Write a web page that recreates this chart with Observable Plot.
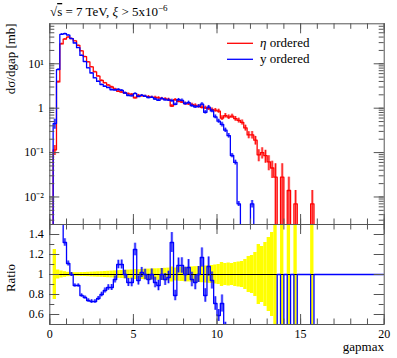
<!DOCTYPE html>
<html><head><meta charset="utf-8">
<script src="https://cdn.jsdelivr.net/npm/d3@7"></script>
<script src="https://cdn.jsdelivr.net/npm/@observablehq/plot@0.6"></script>
<style>
body{margin:0;background:#fff;}
#chart{position:relative;width:397px;height:358px;}
#chart svg{display:block;overflow:visible;}
</style></head><body><div id="chart"></div>
<script>
// ---- data (bins of width 0.2 in gapmax, starting at 0) ----
const binWidth = 0.2;
const etaOrdered = [0,0.115,3.9,28,36,40,37,33,26,19.5,
  14.5,11,8.5,6.6,5.3,4.2,3.7,3.3,3.0,2.7,
  2.4,2.3,2.2,2.1,2.05,1.7,1.95,1.9,1.85,1.82,
  1.75,1.75,1.7,1.65,1.62,1.57,1.12,1.55,1.42,1.38,
  1.27,1.25,1.2,1.16,1.1,1.05,1.02,0.98,0.93,0.9,
  0.86,0.6,0.68,0.63,0.66,0.58,0.53,0.48,0.36,0.25,
  0.25,0.19,0.089,0.1,0.085,0.062,0.045,0.028,0,0.028,
  0,0.014,0,0.007,0,0,0,0,0.007,0];
const yOrdered = [0,0.45,7.4,46,47.5,44.4,37,29.4,23.1,15.4,
  11.2,8.1,6.2,4.8,4.0,3.4,3.1,2.9,2.6,2.57,
  2.64,2.53,2.2,1.93,1.89,2.13,1.83,1.94,1.85,1.73,
  1.75,1.61,1.51,1.65,1.54,1.52,1.48,1.22,1.55,1.5,
  1.27,1.34,1.14,1.07,1.1,1.23,0.81,1.06,0.87,0.64,
  0.51,0.43,0.32,0.24,0.086,0.06,0.007,0,0,0,
  0.007,0,0,0,0,0,0,0,0,0,
  0,0,0,0,0,0,0,0,0,0];
const ratioY = [null,3.9,1.9,1.64,1.32,1.11,1.0,0.89,0.89,0.79,
  0.77,0.74,0.73,0.73,0.76,0.80,0.84,0.87,0.87,0.95,
  1.1,1.1,1.0,0.92,0.92,1.25,0.94,1.02,1.0,0.95,
  1.0,0.92,0.89,1.0,0.95,0.97,1.32,0.79,1.09,1.09,
  1.0,1.07,0.95,0.92,1.0,1.17,0.79,1.08,0.94,0.71,
  0.59,0.71,0.47,0.38,0.13,0.1,0.013,0,0,0,
  0.028,0,0,0,0,0,0,0,1,0,
  1,0,1,0,1,1,1,1,0,1];
const etaRelErr = [0,0.25,0.045,0.035,0.028,0.022,0.02,0.018,0.018,0.02,
  0.02,0.022,0.024,0.025,0.027,0.028,0.03,0.032,0.034,0.036,
  0.038,0.04,0.042,0.044,0.046,0.05,0.048,0.05,0.052,0.054,
  0.055,0.057,0.058,0.06,0.062,0.064,0.075,0.065,0.068,0.07,
  0.072,0.074,0.076,0.078,0.08,0.082,0.085,0.088,0.09,0.095,
  0.1,0.12,0.11,0.115,0.11,0.12,0.125,0.13,0.15,0.18,
  0.19,0.22,0.3,0.28,0.32,0.37,0.42,1,0,1,
  0,1,0,1,0,0,0,0,1,0];
const xTicks = [0,5,10,15,20];
const xTickLabels = ["0","5","10","15","20"];
const logTicks = [0.01,0.1,1,10];
const logTickLabels = ["10\u207B\u00B2","10\u207B\u00B9","1","10\u00B9"];
const ratioTicks = [0.6,0.8,1,1.2,1.4];
const ratioTickLabels = ["0.6","0.8","1","1.2","1.4"];
const seriesNames = ["\u03B7 ordered","y ordered"];

// ---- layout / style ----
const W = 397, ML = 49.3, MR = 13.3;
const H1 = 224, MT1 = 23.3;
const H2 = 134, MB2 = 34;
const FW = W - ML - MR, FH1 = H1 - MT1, FH2 = H2 - MB2;
const RED = "#ff0000", BLUE = "#0000ff", FRAME = "#555", YELLOW = "#ffff00";
const FONT = "'Liberation Serif', serif";
const FLOOR = 1e-6;
const XMAX = 20;

function steps(vals, f, xEnd) {
  const pts = [];
  vals.forEach((v, i) => { if (v == null) return; pts.push({x: i * binWidth, y: f(v)}); });
  pts.push({x: xEnd != null ? xEnd : vals.length * binWidth, y: f(vals[vals.length - 1])});
  return pts;
}
const fLog = v => v > 0 ? v : FLOOR;

function errData(vals, rel) {
  return vals.map((v, i) => ({x: (i + 0.5) * binWidth, v, e: rel[i]}))
    .filter(d => d.v != null && d.v > 0 && d.e > 0);
}

function xTickMarks(fh) {
  const minor = d3.range(0, XMAX + 1, 1);
  return [
    Plot.ruleX(minor, {x: d => d, insetBottom: fh - 5.5, stroke: FRAME}),
    Plot.ruleX(minor, {x: d => d, insetTop: fh - 5.5, stroke: FRAME}),
    Plot.ruleX(xTicks, {x: d => d, insetBottom: fh - 10, stroke: FRAME}),
    Plot.ruleX(xTicks, {x: d => d, insetTop: fh - 10, stroke: FRAME})
  ];
}
function yTickMarks(minor, major) {
  return [
    Plot.ruleY(minor, {y: d => d, insetRight: FW - 5, stroke: FRAME}),
    Plot.ruleY(minor, {y: d => d, insetLeft: FW - 5, stroke: FRAME}),
    Plot.ruleY(major, {y: d => d, insetRight: FW - 10, stroke: FRAME}),
    Plot.ruleY(major, {y: d => d, insetLeft: FW - 10, stroke: FRAME})
  ];
}

const yDomain = [0.0024, 79.6];
const logMinor = [];
for (let e = -3; e <= 1; e++) for (let k = 1; k <= 9; k++) {
  const v = k * Math.pow(10, e);
  if (v >= yDomain[0] && v <= yDomain[1]) logMinor.push(v);
}

const redErr = errData(etaOrdered, etaRelErr);
const blueErr = errData(yOrdered, etaRelErr);

const main = Plot.plot({
  width: W, height: H1, marginLeft: ML, marginRight: MR, marginTop: MT1, marginBottom: 0,
  style: {fontFamily: FONT, fontSize: "12px", background: "transparent", color: "#000"},
  x: {domain: [0, XMAX], axis: null},
  y: {type: "log", domain: yDomain},
  marks: [
    Plot.ruleX(redErr, {x: "x", y1: d => Math.max(d.v * (1 - d.e), FLOOR), y2: d => d.v * (1 + d.e), stroke: RED, strokeOpacity: 0.45, strokeWidth: 2.6, clip: true}),
    Plot.ruleX(redErr, {x: "x", y1: d => Math.max(d.v * (1 - d.e), FLOOR), y2: d => d.v * (1 + d.e), stroke: RED, strokeWidth: 0.9, clip: true}),
    Plot.line(steps(etaOrdered, fLog), {x: "x", y: "y", curve: "step-after", stroke: RED, strokeWidth: 1.3, clip: true}),
    Plot.ruleX(blueErr, {x: "x", y1: d => Math.max(d.v * (1 - d.e), FLOOR), y2: d => d.v * (1 + d.e), stroke: BLUE, strokeOpacity: 0.45, strokeWidth: 2.6, clip: true}),
    Plot.ruleX(blueErr, {x: "x", y1: d => Math.max(d.v * (1 - d.e), FLOOR), y2: d => d.v * (1 + d.e), stroke: BLUE, strokeWidth: 0.9, clip: true}),
    Plot.line(steps(yOrdered, fLog), {x: "x", y: "y", curve: "step-after", stroke: BLUE, strokeWidth: 1.3, clip: true}),
    Plot.frame({stroke: FRAME}),
    ...xTickMarks(FH1),
    ...yTickMarks(logMinor, logTicks),
    Plot.axisY(logTicks, {anchor: "left", tickSize: 0, tickPadding: 6, label: null, fontSize: 12,
      tickFormat: d => logTickLabels[logTicks.indexOf(d)]})
  ]
});

const bandData = etaRelErr.map((e, i) => ({x1: i * binWidth, x2: (i + 1) * binWidth, e})).filter(d => d.e > 0);
const ratioErr = ratioY.map((r, i) => ({x: (i + 0.5) * binWidth, r, e: etaRelErr[i], v: yOrdered[i]}))
  .filter(d => d.r != null && d.r > 0 && d.v > 0 && d.e > 0);

const ratio = Plot.plot({
  width: W, height: H2, marginLeft: ML, marginRight: MR, marginTop: 0, marginBottom: MB2,
  style: {fontFamily: FONT, fontSize: "12px", background: "transparent", color: "#000"},
  x: {domain: [0, XMAX]},
  y: {domain: [0.5, 1.5]},
  marks: [
    Plot.rect(bandData, {x1: "x1", x2: "x2", y1: d => 1 - d.e, y2: d => 1 + d.e, fill: YELLOW, clip: true}),
    Plot.ruleX(ratioErr, {x: "x", y1: d => d.r * (1 - d.e), y2: d => d.r * (1 + d.e), stroke: BLUE, strokeOpacity: 0.45, strokeWidth: 2.6, clip: true}),
    Plot.ruleX(ratioErr, {x: "x", y1: d => d.r * (1 - d.e), y2: d => d.r * (1 + d.e), stroke: BLUE, strokeWidth: 0.9, clip: true}),
    Plot.ruleY([1], {stroke: "#000", strokeWidth: 1}),
    Plot.line(steps(ratioY, v => v, XMAX), {x: "x", y: "y", curve: "step-after", stroke: BLUE, strokeWidth: 1.3, clip: true}),
    Plot.frame({stroke: FRAME}),
    ...xTickMarks(FH2),
    ...yTickMarks(d3.range(0.5, 1.51, 0.1), ratioTicks),
    Plot.axisX(xTicks, {anchor: "bottom", tickSize: 0, tickPadding: 5, label: null, fontSize: 12,
      tickFormat: d => xTickLabels[xTicks.indexOf(d)]}),
    Plot.axisY(ratioTicks, {anchor: "left", tickSize: 0, tickPadding: 6, label: null, fontSize: 12,
      tickFormat: d => ratioTickLabels[ratioTicks.indexOf(d)]})
  ]
});

const chart = document.getElementById("chart");
chart.appendChild(main);
chart.appendChild(ratio);

// ---- texts and legend ----
const sm = d3.select(main);
const title = sm.append("text").attr("x", 50).attr("y", 16).attr("text-anchor", "start")
  .attr("font-family", FONT).attr("font-size", 13).attr("fill", "#000");
title.append("tspan").text("\u221A");
title.append("tspan").attr("style", "text-decoration: overline").text("s");
title.append("tspan").text(" = 7 TeV, ");
title.append("tspan").attr("font-style", "italic").text("\u03BE");
title.append("tspan").text(" > 5x10");
title.append("tspan").attr("font-size", 9).attr("dy", -5).text("\u22126");

sm.append("text").attr("transform", "translate(15,23.3) rotate(-90)").attr("text-anchor", "end")
  .attr("font-family", FONT).attr("font-size", 13).attr("fill", "#000").text("d\u03C3/dgap [mb]");

const legY = [43.3, 59.3], legC = [RED, BLUE];
seriesNames.forEach((name, i) => {
  sm.append("line").attr("x1", 227).attr("x2", 253).attr("y1", legY[i]).attr("y2", legY[i])
    .attr("stroke", legC[i]).attr("stroke-width", 1.3);
  const t = sm.append("text").attr("x", 260).attr("y", legY[i] + 4).attr("text-anchor", "start")
    .attr("font-family", FONT).attr("font-size", 13).attr("fill", "#000");
  if (i === 0) { t.append("tspan").attr("font-style", "italic").text(name.slice(0, 1)); t.append("tspan").text(name.slice(1)); }
  else t.text(name);
});

const sr = d3.select(ratio);
sr.append("text").attr("transform", `translate(15,${278 - H1}) rotate(-90)`).attr("text-anchor", "middle")
  .attr("font-family", FONT).attr("font-size", 13).attr("fill", "#000").text("Ratio");
sr.append("text").attr("x", 384).attr("y", 351 - H1).attr("text-anchor", "end")
  .attr("font-family", FONT).attr("font-size", 13).attr("fill", "#000").text("gapmax");
</script></body></html>
